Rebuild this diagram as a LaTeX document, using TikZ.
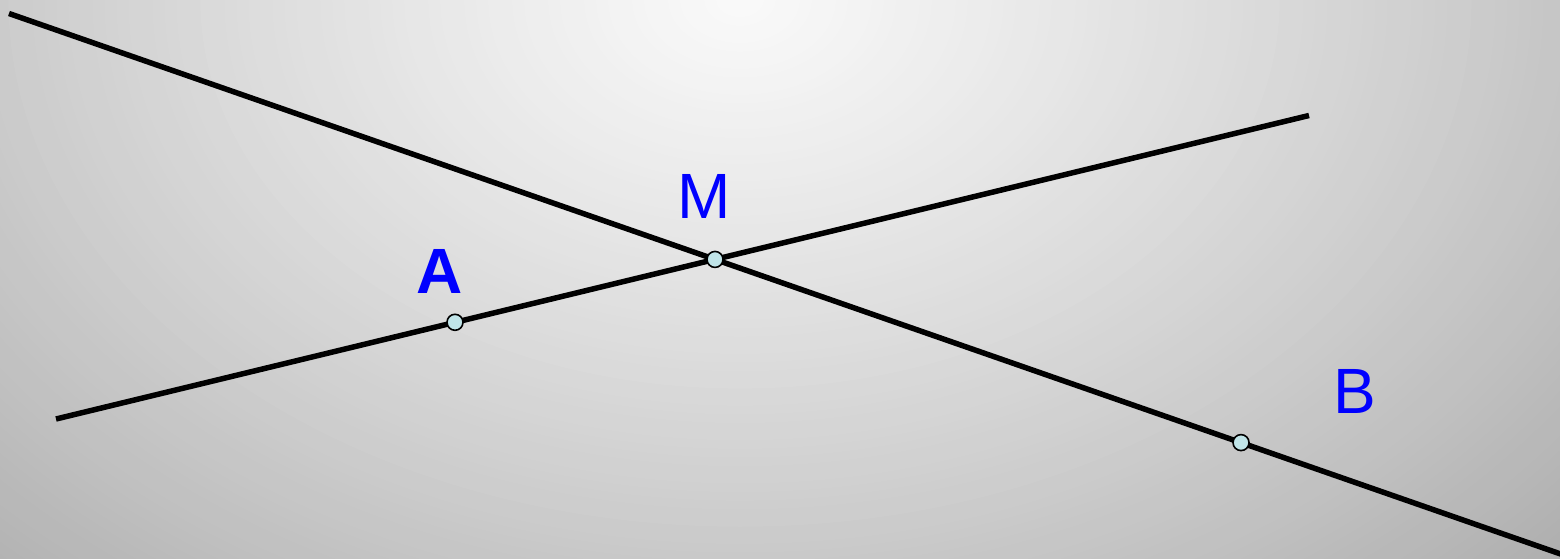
\documentclass[tikz,border=0pt]{standalone}
\usepackage{fontspec}
\setmainfont{Liberation Sans}
\definecolor{ptfill}{RGB}{192,228,232}
\definecolor{lblblue}{RGB}{0,0,255}
\tikzset{
  geoline/.style={line width=5.5pt, line cap=butt, black},
  geopt/.style={circle, draw=black, line width=1.6pt, fill=ptfill, minimum size=16pt, inner sep=0pt},
  geolbl/.style={anchor=base, inner sep=0pt, text=lblblue, font=\fontsize{64}{64}\selectfont}
}
\begin{document}
\begin{tikzpicture}[x=1pt,y=-1pt]
\useasboundingbox (0,0) rectangle (1560,559);
\begin{scope}
  \clip (0,0) rectangle (1560,559);
  \foreach \i in {100,...,1}{
    \pgfmathsetmacro\rr{\i*0.012}
    \pgfmathsetmacro\g{(250-55*\rr-10*\rr*\rr)/255}
    \definecolor{bgc}{gray}{\g}
    \fill[bgc] (740,0) ellipse [x radius={1000*\rr}, y radius={720*\rr}];
  }
\end{scope}
\begin{scope}
\clip (0,0) rectangle (1560,559);
\coordinate (L1a) at (9,13.5);
\coordinate (L1b) at (1575,559);
\coordinate (L2a) at (56,419);
\coordinate (L2b) at (1309,115.5);
\draw[geoline] (L1a) -- (L1b);
\draw[geoline] (L2a) -- (L2b);
\end{scope}
\node[geopt] (M) at (intersection of L1a--L1b and L2a--L2b) {};
\node[geopt] (A) at (455,322.3) {};
\node[geopt] (B) at (1241,442.6) {};
\node[geolbl] (lM) at (704,218) {M};
\node[geolbl, font=\fontsize{64}{64}\selectfont\bfseries] (lA) at (440,293) {A};
\node[geolbl] (lB) at (1355,413) {B};
\end{tikzpicture}
\end{document}
